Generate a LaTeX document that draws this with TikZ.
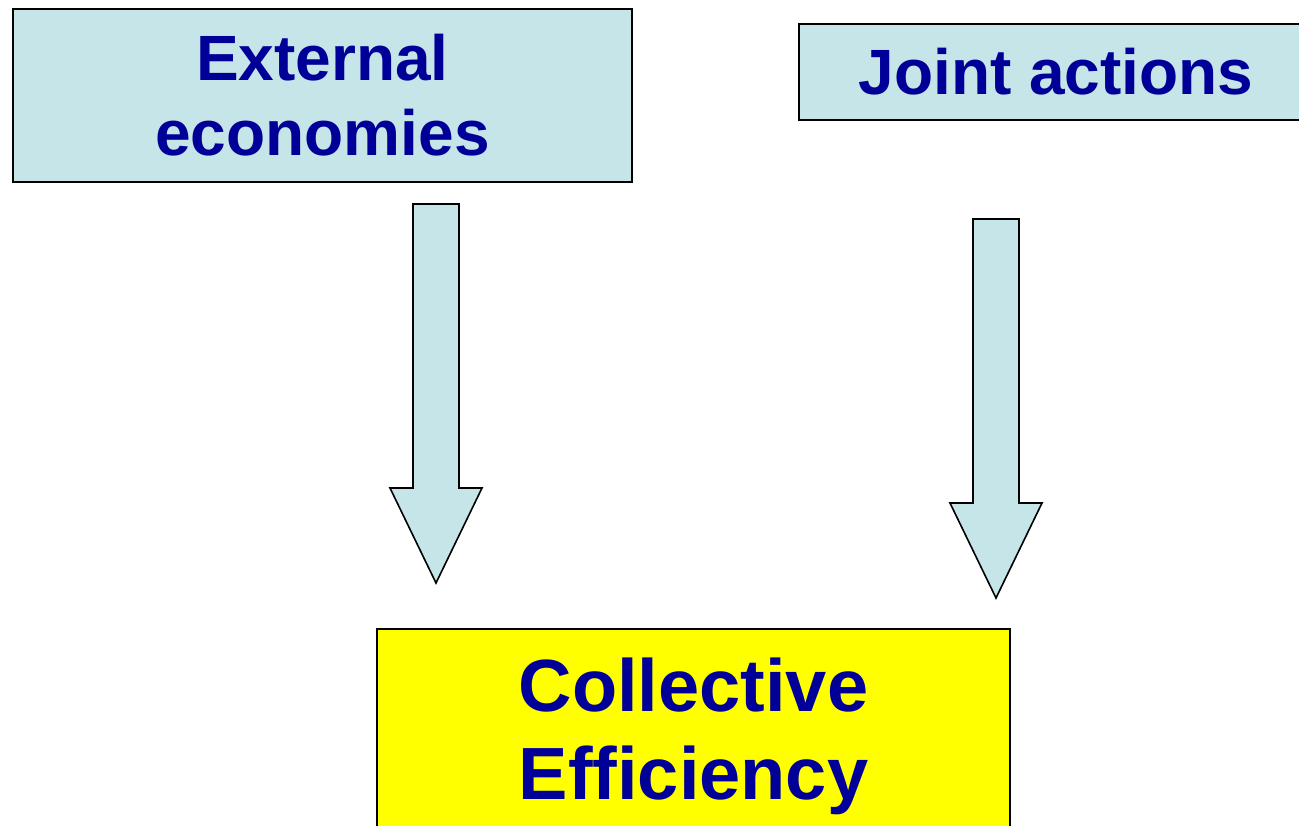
\documentclass[tikz,border=0pt]{standalone}
\usepackage{fontspec}
\setmainfont{Liberation Sans}
\usetikzlibrary{calc}
\definecolor{boxcyan}{RGB}{197,229,232}
\definecolor{boxyellow}{RGB}{255,255,0}
\definecolor{textblue}{RGB}{0,0,153}

% fat downward arrow from a start point to a tip
\newcommand\blockarrow[2]{%
  \draw[bigarrow] ($(#1)+(-23,0)$) -- ($(#2)+(-23,-95)$) -- ($(#2)+(-46,-95)$)
    -- (#2) -- ($(#2)+(46,-95)$) -- ($(#2)+(23,-95)$) -- ($(#1)+(23,0)$) -- cycle;}

\begin{document}
\begin{tikzpicture}[x=1pt,y=-1pt,
	box/.style={draw=black,line width=2pt,align=center,text=textblue,inner sep=0pt,
		font=\bfseries\fontsize{64}{75}\selectfont},
	bigarrow/.style={draw=black,line width=1.6pt,fill=boxcyan,line join=miter}]
	\useasboundingbox (0,0) rectangle (1299,825);
	\clip (0,0) rectangle (1299,825);
	\node[box,fill=boxcyan,minimum width=619pt,minimum height=173pt] (ext) at (322.5,95.5) {External\\economies};
	\node[box,fill=boxcyan,minimum width=514pt,minimum height=96pt] (joint) at (1056,72) {Joint actions};
	\node[box,fill=boxyellow,minimum width=633pt,minimum height=215pt,
		font=\bfseries\fontsize{74}{88}\selectfont] (coll) at (693.5,736.5) {Collective\\Efficiency};
	% arrow ends
	\coordinate (ext-out) at (436,204);
	\coordinate (coll-in1) at (436,583);
	\coordinate (joint-out) at (996,219);
	\coordinate (coll-in2) at (996,598);
	\blockarrow{ext-out}{coll-in1}
	\blockarrow{joint-out}{coll-in2}
\end{tikzpicture}
\end{document}
